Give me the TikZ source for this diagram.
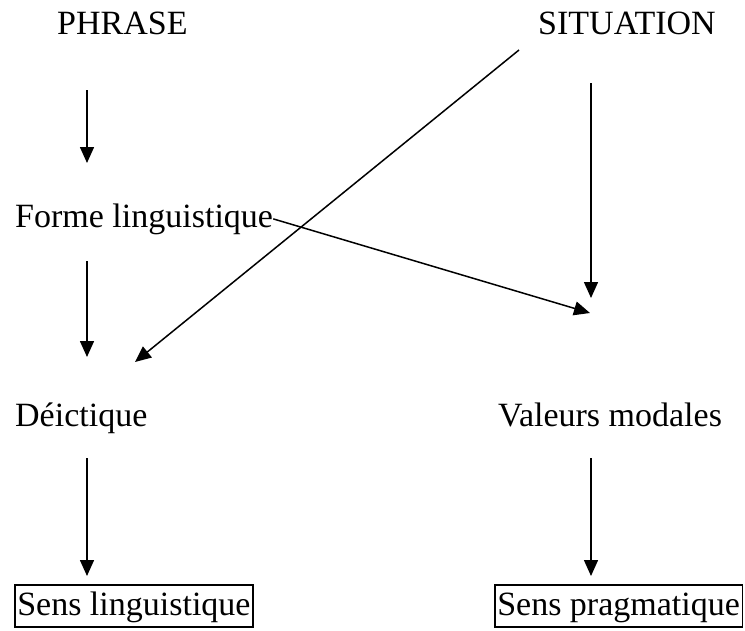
\documentclass[tikz,border=0pt]{standalone}
\usepackage{fontspec}
\setmainfont{Liberation Serif}
\usetikzlibrary{arrows.meta}
\begin{document}
\begin{tikzpicture}[x=1pt,y=-1pt,
  lbl/.style={anchor=base west,inner sep=0pt,font=\fontsize{34}{40}\selectfont},
  boxed/.style={lbl,draw,line width=1.5pt,inner xsep=2.5pt,inner ysep=4pt,text height=26pt,text depth=8pt},
  arr/.style={line width=1.5pt,-{Triangle[length=16pt,width=14pt]}}]
\useasboundingbox (0,0) rectangle (745,630);
\node[lbl] (phrase) at (57,34) {PHRASE};
\node[lbl] (situation) at (538,34) {SITUATION};
\node[lbl] (forme) at (15,227) {Forme linguistique};
\node[lbl] (deictique) at (15,426) {Déictique};
\node[lbl] (valeurs) at (498,426) {Valeurs modales};
\node[boxed] (senslin) at (14,615) {Sens linguistique};
\node[boxed] (senspra) at (494,615) {Sens pragmatique};
% free ends
\coordinate (p1) at (87,90);   \coordinate (p2) at (87,163);
\coordinate (f1) at (87,261);  \coordinate (f2) at (87,357);
\coordinate (d1) at (87,458);  \coordinate (d2) at (87,576);
\coordinate (s1) at (591,83);  \coordinate (s2) at (591,298);
\coordinate (v1) at (591,458); \coordinate (v2) at (591,576);
\coordinate (sd1) at (519,50); \coordinate (sd2) at (135,362);
\coordinate (fv2) at (590,313);
\draw[arr] (p1) -- (p2);
\draw[arr] (f1) -- (f2);
\draw[arr] (d1) -- (d2);
\draw[arr] (s1) -- (s2);
\draw[arr] (v1) -- (v2);
\draw[arr] (sd1) -- (sd2);
\draw[arr] (forme.east) -- (fv2);
\end{tikzpicture}
\end{document}
